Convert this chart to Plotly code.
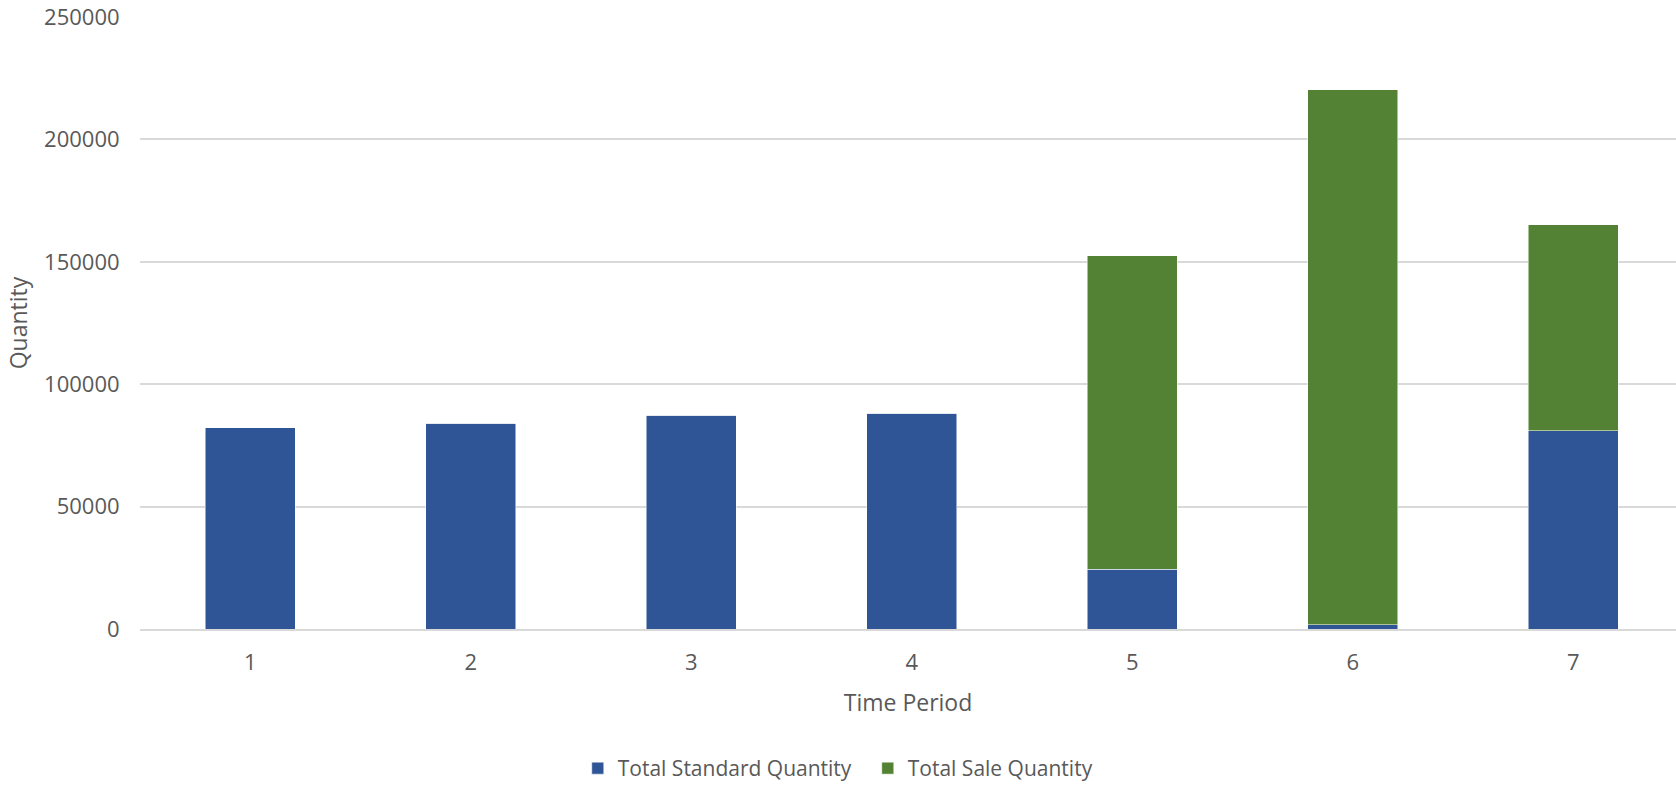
import plotly.graph_objects as go

periods = [1, 2, 3, 4, 5, 6, 7]
standard_qty = [82200, 83970, 87350, 88040, 24330, 1750, 81000]
sale_qty = [0, 0, 0, 0, 128230, 218480, 84200]
y_ticks = [0, 50000, 100000, 150000, 200000, 250000]

font_family = "Open Sans, Noto Sans, sans-serif"
text_color = "#595959"

fig = go.Figure()
fig.add_trace(go.Bar(
    x=periods, y=standard_qty, name="Total Standard Quantity",
    marker=dict(color="#2F5597", line=dict(color="#ffffff", width=0.5)),
    width=0.41,
))
fig.add_trace(go.Bar(
    x=periods, y=sale_qty, name="Total Sale Quantity",
    marker=dict(color="#548235", line=dict(color="#ffffff", width=0.5)),
    width=0.41,
))

fig.update_layout(
    barmode="stack",
    width=1676, height=789,
    margin=dict(l=140, r=0, t=17, b=159),
    paper_bgcolor="white", plot_bgcolor="white",
    font=dict(family=font_family, size=21, color=text_color),
    legend=dict(
        orientation="h", x=0.285, xanchor="left", y=-0.2284, yanchor="middle",
        font=dict(size=21, color=text_color),
        traceorder="normal", entrywidth=245, entrywidthmode="pixels",
    ),
    xaxis=dict(
        range=[0.5, 7.466], tickmode="array", tickvals=periods,
        ticktext=[str(p) for p in periods],
        showgrid=False, zeroline=False,
        showline=True, linecolor="#d9d9d9", linewidth=1.5,
        ticks="outside", ticklen=13, tickcolor="rgba(0,0,0,0)",
        tickfont=dict(size=22, color=text_color),
        title=dict(text="Time Period", font=dict(size=23, color=text_color), standoff=20),
        automargin=False,
    ),
    yaxis=dict(
        range=[0, 250000], tickmode="array", tickvals=y_ticks,
        ticktext=[str(v) for v in y_ticks],
        showgrid=True, gridcolor="#d9d9d9", gridwidth=1.5,
        zeroline=False, showline=False,
        ticks="outside", ticklen=15, tickcolor="rgba(0,0,0,0)",
        tickfont=dict(size=22, color=text_color),
        title=dict(text="Quantity", font=dict(size=23, color=text_color), standoff=10),
        automargin=False,
    ),
)

fig.write_html("out.html", post_script="document.body.style.margin='0';",
               config={"displayModeBar": False})
